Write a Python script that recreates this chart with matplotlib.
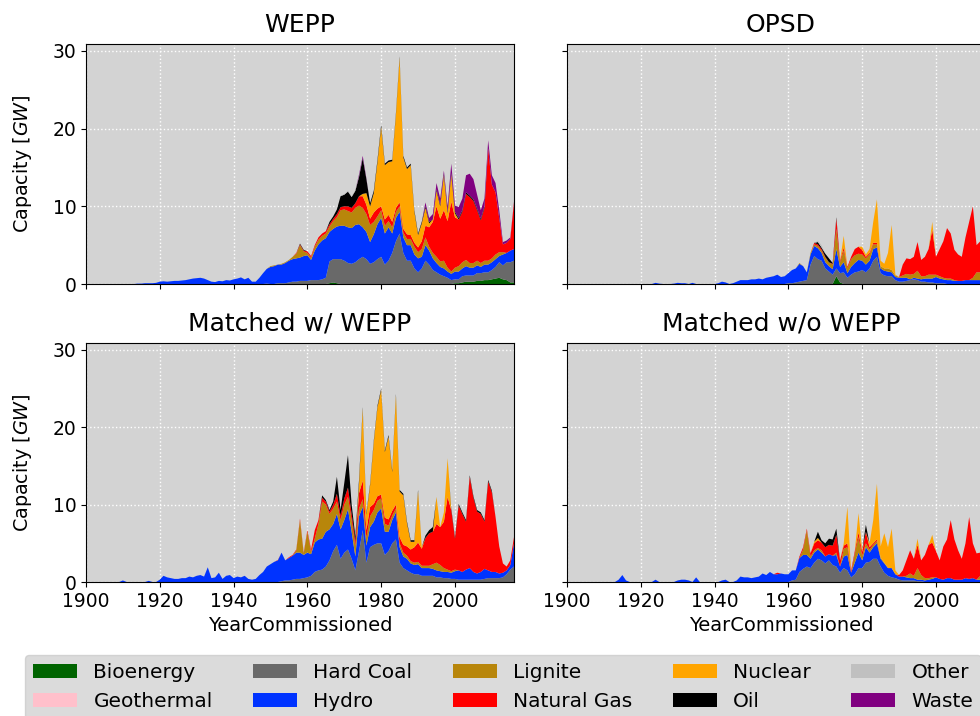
import numpy as np
import matplotlib
matplotlib.use("Agg")
import matplotlib.pyplot as plt

years = np.arange(1900, 2017)
fuels = ['Bioenergy', 'Geothermal', 'Hard Coal', 'Hydro', 'Lignite',
         'Natural Gas', 'Nuclear', 'Oil', 'Other', 'Waste']
colors = ['darkgreen', 'pink', 'dimgray', '#0033ff', 'darkgoldenrod',
          'red', 'orange', 'black', 'silver', 'purple']
titles = ['WEPP', 'OPSD', 'Matched w/ WEPP', 'Matched w/o WEPP']
xticks = [1900, 1920, 1940, 1960, 1980, 2000]
yticks = [0, 10, 20, 30]

# ---------------- WEPP (values in GW, (first year, yearly values)) -------
wepp_bio = (1966, [0.1, 0.2, 0.1, 0.0] + [0.0] * 30 +
            [0.1, 0.1, 0.2, 0.3, 0.3, 0.3, 0.4, 0.4, 0.5, 0.5,
             0.6, 0.7, 0.8, 0.6, 0.5, 0.2, 0.2])
wepp_geo = (2000, [])
wepp_coal = (1949, [0.05,
                    0.0, 0.0, 0.1, 0.1, 0.1, 0.2, 0.3, 0.3, 0.4, 0.4,
                    0.4, 0.5, 0.5, 0.5, 0.6, 0.8, 2.8, 3.0, 3.1, 3.2,
                    3.0, 2.7, 2.6, 2.8, 3.2, 3.5, 3.2, 2.6, 2.8, 3.2,
                    3.5, 2.5, 3.0, 4.0, 5.5, 6.5, 4.0, 3.0, 3.0, 2.0,
                    1.5, 2.0, 3.0, 2.5, 1.8, 1.5, 1.2, 1.0, 0.8, 0.5,
                    0.5, 0.5, 0.8, 0.8, 0.8, 0.8, 1.0, 1.0, 1.0, 1.0,
                    1.2, 1.5, 2.0, 1.8, 2.3, 2.6, 2.8])
wepp_hydro = (1914, [0.05, 0.05, 0.1, 0.1, 0.1, 0.15,
                     0.3, 0.35, 0.3, 0.35, 0.4, 0.4, 0.45, 0.5, 0.6, 0.7,
                     0.75, 0.8, 0.7, 0.5, 0.3, 0.25, 0.4, 0.35, 0.5, 0.45,
                     0.6, 0.7, 0.85, 0.6, 0.8,
                     0.3, 0.3, 0.8, 1.4, 1.9,
                     2.2, 2.3, 2.4, 2.4, 2.6, 2.8, 2.9, 3.0, 3.0, 3.2,
                     3.3, 2.6, 3.8, 4.6, 5.0, 5.1, 3.8, 3.9, 4.2, 4.3,
                     4.5, 4.6, 4.6, 4.8, 4.5, 3.8, 3.5, 2.8, 3.6, 4.5,
                     5.0, 4.0, 4.3, 2.5, 3.0, 2.8, 2.0, 2.0, 2.0, 1.8,
                     1.8, 1.5, 2.0, 1.8, 1.5, 1.2, 1.0, 1.0, 0.8, 0.8,
                     1.0, 1.0, 1.0, 1.2, 1.0, 1.0, 1.0, 0.8, 1.0, 1.0,
                     1.0, 1.0, 0.8, 1.4, 1.2, 1.5, 1.5])
wepp_lignite = (1950, [0.1, 0.1, 0.0, 0.1, 0.1, 0.1, 0.3, 0.6, 1.6, 0.6,
                       0.3, 0.3, 0.5, 0.6, 0.6, 0.6, 0.7, 1.0, 1.2, 2.0,
                       2.1, 2.1, 2.0, 2.2, 2.4, 2.5, 2.3, 2.2, 1.6, 1.0,
                       1.0, 1.0, 0.8, 0.8, 0.8, 0.7, 0.6, 0.8, 0.8, 1.0,
                       0.8, 1.0, 1.0, 0.5, 0.7, 0.8, 0.7, 1.0, 0.5, 0.3,
                       0.5, 0.7, 0.8, 0.8, 0.6, 0.6, 0.6, 0.5, 0.5, 0.5,
                       0.5, 0.6, 0.5, 0.3])
wepp_gas = (1957, [0.1, 0.1, 0.1,
                   0.2, 0.2, 0.2, 0.3, 0.3, 0.3, 0.3, 0.3, 0.4, 0.4,
                   0.4, 0.6, 0.6, 0.6, 1.2, 1.5, 1.2, 0.8, 1.2, 1.0,
                   0.5, 0.8, 0.8, 0.7, 0.5, 0.5, 0.5, 0.6, 0.5, 0.5,
                   0.6, 1.0, 1.5, 2.5, 4.0, 6.5, 5.5, 6.5, 6.0, 9.0,
                   6.5, 6.0, 6.5, 8.5, 8.5, 8.0, 6.5, 5.5, 6.8, 14.5,
                   9.5, 8.0, 4.4, 1.0, 1.3, 1.5, 6.0])
wepp_nuclear = (1975, [0.3, 1.5, 1.6, 2.5, 6.0,
                       10.2, 7.0, 6.8, 7.8, 12.0, 18.6, 9.2, 8.4, 9.0, 4.0,
                       1.6, 2.3, 2.3, 0.5, 0.3, 2.0, 1.6, 4.5, 1.0, 3.5,
                       0.5])
wepp_oil = (1958, [0.1, 0.1,
                   0.0, 0.0, 0.0, 0.0, 0.0, 0.0, 0.3, 0.3, 0.6, 1.4,
                   1.5, 1.9, 1.4, 1.6, 2.5, 4.6, 1.8, 0.4, 0.3, 0.3,
                   0.3, 0.2, 0.2, 0.2, 0.2, 0.2, 0.2, 0.2, 0.2, 0.2,
                   0.2, 0.2, 0.2, 0.2, 0.0, 0.2, 0.2, 0.2, 0.2, 0.2,
                   0.2, 0.2, 0.2, 0.2, 0.2, 0.2, 0.2, 0.2, 0.2])
wepp_other = (1970, [0.1, 0.1, 0.1, 0.1, 0.1])
wepp_waste = (1974, [0.2, 0.3, 0.1, 0.0, 0.0, 0.0,
                     0.0, 0.0, 0.0, 0.0, 0.0, 0.0, 0.0, 0.0, 0.0, 0.0,
                     0.0, 0.0, 0.5, 0.5, 0.7, 0.8, 0.8, 0.4, 0.7, 1.2,
                     0.8, 1.4, 1.5, 2.2, 2.8, 2.6, 1.8, 1.1, 1.0, 1.0,
                     1.2, 1.2, 1.0, 0.3, 0.3, 0.2, 0.1])

# ---------------- OPSD ----------------------------------------------------
opsd_bio = (1973, [1.0, 0.2])
opsd_geo = (2000, [])
opsd_coal = (1960, [0.1, 0.1, 0.2, 0.3, 0.4, 0.5, 2.5, 3.6, 3.2, 3.0,
                    2.0, 1.6, 1.2, 1.0, 1.2, 1.5, 0.8, 1.2, 1.5, 1.6,
                    1.8, 1.5, 2.0, 3.0, 3.5, 1.4, 1.1, 1.0, 1.0, 0.5,
                    0.3, 0.3, 0.4, 0.5, 0.6, 0.5, 0.3, 0.3, 0.2, 0.2,
                    0.1, 0.1, 0.1])
opsd_hydro = (1924, [0.15, 0.05, 0.0, 0.0, 0.0, 0.05,
                     0.15, 0.1, 0.1, 0.0, 0.15, 0.0, 0.0, 0.0, 0.0, 0.0,
                     0.0, 0.1, 0.3, 0.2, 0.0,
                     0.1, 0.3, 0.5, 0.5, 0.5,
                     0.6, 0.6, 0.7, 0.6, 0.8, 0.9, 1.0, 1.2, 0.9, 1.0,
                     1.3, 1.7, 1.8, 2.3, 1.9, 1.0, 1.3, 1.3, 1.4, 1.0,
                     0.8, 0.7, 0.7, 2.5, 0.8, 1.3, 0.6, 1.0, 1.2, 1.5,
                     1.2, 1.0, 1.0, 1.5, 1.2, 0.6, 0.6, 0.6, 0.5, 0.4,
                     0.5, 0.5, 0.4, 0.1, 0.2, 0.2, 0.3, 0.4, 0.5, 0.5,
                     0.8, 0.6, 0.5, 0.5, 0.5, 0.4, 0.4, 0.4, 0.5, 0.5,
                     0.5, 0.5, 0.5, 0.5, 0.5, 0.5, 0.5])
opsd_lignite = (1963, [0.1, 0.0, 0.0, 0.2, 0.2, 0.3, 0.3,
                       0.6, 0.5, 0.6, 2.6, 0.6, 1.5, 0.6, 1.0, 1.0, 0.8,
                       0.8, 0.8, 0.8, 0.6, 0.4, 0.3, 0.3, 0.4, 0.3, 0.2,
                       0.1, 0.3, 0.5, 0.6, 0.5, 1.0, 0.4, 0.3, 0.5, 0.5,
                       0.3, 0.3, 0.2, 0.2, 0.2, 0.1, 0.0, 0.0, 0.0, 0.0,
                       0.3, 1.0, 1.0, 1.0, 1.0, 1.0, 1.0])
opsd_gas = (1967, [0.2, 0.2, 0.2,
                   0.1, 0.0, 0.1, 1.3, 0.2, 0.4, 0.2, 0.3, 0.8, 0.9,
                   0.6, 0.2, 0.2, 0.2, 0.2, 0.0, 0.0, 0.0, 0.0, 0.0,
                   0.0, 1.4, 2.0, 2.0, 2.2, 3.7, 2.1, 2.5, 3.3, 5.8,
                   2.3, 3.5, 4.7, 6.5, 5.8, 3.9, 3.4, 3.1, 5.5, 7.5,
                   9.2, 3.5, 4.0, 4.0, 4.0, 4.0, 4.0])
opsd_nuclear = (1975, [1.5, 0.0, 0.0, 0.0, 0.0,
                       0.4, 0.3, 0.5, 2.7, 5.6, 0.7, 0.6, 2.0, 5.8, 0.1,
                       0.0, 0.0, 0.0, 0.0, 0.0, 0.0, 0.0, 0.0, 0.0, 1.0])
opsd_oil = (1968, [0.3, 0.2, 0.4, 0.5, 0.1, 0.2])
opsd_other = (1968, [0.2, 0.3])
opsd_waste = (2000, [])

# ---------------- Matched w/ WEPP ----------------------------------------
mw_bio = (2000, [])
mw_geo = (2000, [])
mw_coal = (1953, [0.1, 0.2, 0.2, 0.3, 0.4, 0.4, 0.5,
                  0.6, 0.8, 1.3, 1.5, 1.6, 2.0, 2.8, 4.0, 4.8, 3.0,
                  3.8, 4.2, 3.0, 1.5, 4.0, 6.7, 2.5, 4.5, 4.8, 5.0,
                  5.0, 3.5, 4.0, 5.0, 5.5, 2.5, 1.8, 1.5, 1.2, 1.0,
                  1.0, 0.8, 0.8, 0.8, 0.8, 0.6, 0.6, 0.5, 0.5, 0.4,
                  0.4, 0.3, 0.3, 0.3, 0.3, 0.3, 0.3, 0.3, 0.4, 0.5,
                  0.5, 0.5, 0.5, 0.6, 1.0, 1.6, 2.0])
mw_hydro = (1910, [0.2, 0.0, 0.0, 0.0, 0.0, 0.0, 0.0, 0.15, 0.0, 0.0,
                   0.3, 0.8, 0.6, 0.5, 0.4, 0.4, 0.5, 0.5, 0.7, 0.6,
                   0.8, 0.9, 0.7, 1.9, 0.5, 0.6, 1.2, 0.4, 0.8, 0.9,
                   0.5, 0.7, 0.6, 0.8, 0.4,
                   0.3, 0.4, 0.9, 1.3, 2.0,
                   2.3, 2.6, 2.8, 3.7, 2.6, 2.9, 3.1, 3.4, 3.4, 3.0,
                   3.2, 2.8, 3.8, 4.0, 4.0, 4.5, 4.0, 3.5, 4.0, 3.8,
                   4.2, 5.2, 3.5, 1.8, 4.5, 3.0, 2.2, 2.6, 3.0, 4.0,
                   4.5, 3.0, 2.5, 3.0, 3.5, 2.0, 1.5, 1.5, 1.2, 1.2,
                   1.3, 1.0, 1.0, 1.0, 0.9, 0.9, 0.8, 0.8, 0.8, 0.8,
                   1.0, 1.2, 1.0, 1.3, 1.5, 1.0, 0.8, 1.0, 1.3, 1.0,
                   0.8, 0.8, 0.6, 0.6, 0.5, 0.6, 3.0])
mw_lignite = (1957, [0.3, 4.2, 0.2,
                     2.7, 0.3, 0.5, 2.0, 4.8, 3.5, 2.0, 2.0, 1.6, 1.2,
                     2.0, 1.6, 1.5, 1.4, 1.0, 1.0, 1.0, 1.4, 1.5, 1.5,
                     1.3, 1.0, 0.8, 0.6, 0.5, 0.5, 0.5, 0.4, 0.3, 0.3,
                     0.3, 0.3, 0.3, 0.3, 0.6, 1.0, 0.8, 0.5, 0.3, 0.2,
                     0.2])
mw_gas = (1952, [0.05, 0.0, 0.0, 0.1, 0.1, 0.1, 0.2, 0.1,
                 0.2, 0.3, 1.1, 0.5, 0.5, 0.4, 0.3, 0.5, 1.0, 0.6,
                 0.8, 1.2, 0.8, 0.6, 2.0, 2.4, 1.0, 1.2, 0.8, 0.6,
                 0.5, 0.8, 0.8, 0.6, 0.5, 0.8, 1.0, 1.2, 1.5, 2.0,
                 2.5, 2.2, 3.6, 4.2, 4.2, 5.0, 4.9, 6.0, 9.4, 7.9,
                 4.0, 8.4, 7.5, 6.2, 11.8, 9.6, 8.0, 7.5, 6.1, 11.5,
                 10.3, 7.1, 3.5, 1.2, 0.5, 0.6, 0.8])
mw_nuclear = (1974, [1.2, 9.3, 2.0, 2.8, 8.0, 11.5,
                     13.5, 8.5, 10.7, 5.0, 14.1, 5.9, 6.4, 3.0, 1.0, 0.7,
                     6.6, 0.2, 0.0, 0.0, 0.0, 3.5, 0.0, 1.2, 5.0, 0.0])
mw_oil = (1964, [0.3, 0.2, 0.2, 0.4, 2.2, 0.7,
                 2.0, 4.2, 1.2, 0.6, 0.5, 0.2, 0.2, 0.2, 0.2, 0.2,
                 0.2, 0.2, 0.2, 0.2, 0.2, 0.2, 0.2, 0.2, 0.2, 0.2,
                 0.2, 0.0, 0.3, 0.4, 0.6, 0.0, 0.0, 0.0, 0.0, 0.2,
                 0.2, 0.2, 0.2, 0.2, 0.2, 0.2, 0.2, 0.2, 0.2, 0.2, 0.2])
mw_other = (2000, [])
mw_waste = (2000, [])

# ---------------- Matched w/o WEPP ---------------------------------------
mo_bio = (2000, [])
mo_geo = (2000, [])
mo_coal = (1961, [0.2, 0.3, 1.3, 1.7, 2.0, 1.8, 2.5, 3.0, 2.8,
                  2.4, 2.8, 2.2, 2.0, 1.2, 1.8, 1.5, 0.6, 1.0, 1.8,
                  1.8, 2.5, 2.6, 3.0, 3.0, 2.0, 1.2, 0.8, 0.6, 0.5,
                  0.3, 0.2, 0.2, 0.2, 0.2, 0.1, 0.1])
mo_hydro = (1914, [0.3, 0.9, 0.2, 0.0, 0.0, 0.0,
                   0.0, 0.0, 0.0, 0.0, 0.3, 0.0, 0.0, 0.0, 0.0, 0.0,
                   0.2, 0.3, 0.3, 0.2, 0.0, 0.6, 0.0, 0.0, 0.0, 0.0,
                   0.0, 0.0, 0.2, 0.3, 0.0,
                   0.0, 0.2, 0.7, 0.6, 0.6,
                   0.5, 0.6, 0.7, 1.1, 0.9, 1.3, 1.0, 1.0, 1.1, 1.0,
                   1.0, 1.3, 1.2, 1.8, 1.8, 1.5, 1.2, 1.3, 1.2, 1.0,
                   0.9, 0.8, 1.2, 1.5, 0.8, 1.5, 2.0, 0.6, 1.5, 2.0,
                   1.0, 2.0, 1.2, 1.5, 2.0, 1.0, 1.2, 1.0, 1.2, 0.5,
                   0.4, 0.5, 0.4, 0.3, 0.3, 0.2, 0.2, 0.2, 0.3, 0.4,
                   0.6, 0.4, 0.3, 0.5, 0.5, 0.3, 0.3, 0.3, 0.5, 0.4,
                   0.5, 0.3, 0.3, 0.3, 0.3, 0.3, 0.3])
mo_lignite = (1964, [0.7, 3.2, 0.3, 0.3, 0.2, 0.3,
                     0.0, 0.0, 0.0, 0.3, 0.0, 1.0, 1.0, 0.0, 1.2, 2.0,
                     0.6, 0.5, 0.4, 0.3, 0.3, 0.2, 0.1, 0.0, 0.0, 0.0,
                     0.0, 0.0, 0.2, 0.6, 0.3, 1.5, 0.6, 0.3, 0.2, 0.2,
                     0.0, 0.0, 0.0, 0.0, 0.0, 0.0, 0.0, 0.0, 0.0, 0.0,
                     0.0, 0.0, 0.5, 0.5, 0.5, 0.5, 0.5])
mo_gas = (1957, [0.2, 0.0, 0.0,
                 0.0, 0.0, 0.0, 0.2, 0.3, 0.2, 0.4, 0.9, 1.0, 1.0,
                 1.2, 1.2, 1.3, 2.3, 0.8, 0.4, 0.5, 0.3, 0.3, 0.6,
                 0.5, 1.5, 0.3, 0.2, 0.2, 0.0, 0.0, 0.0, 0.0, 0.0,
                 0.2, 0.8, 2.0, 3.0, 2.2, 3.0, 1.9, 3.0, 4.3, 4.5,
                 3.4, 2.4, 4.3, 5.0, 7.5, 5.2, 3.8, 2.7, 4.5, 8.0,
                 4.5, 3.4, 3.0, 3.0, 3.0, 3.0, 3.0])
mo_nuclear = (1967, [0.2, 0.3, 0.0,
                     0.0, 0.0, 0.0, 0.0, 0.0, 0.3, 4.7, 0.0, 0.0, 2.5,
                     0.2, 0.0, 0.5, 3.0, 7.2, 1.4, 3.8, 2.7, 5.1, 0.5,
                     0.0, 0.0, 0.0, 0.0, 0.0, 0.8, 0.0, 0.0, 0.0, 1.0])
mo_oil = (1968, [0.8, 0.3, 0.5, 0.8, 0.8, 0.8, 0.0, 0.0, 0.0, 0.0,
                 0.0, 0.0, 0.0, 0.9])
mo_other = (2000, [])
mo_waste = (2000, [])

panels = [
    [wepp_bio, wepp_geo, wepp_coal, wepp_hydro, wepp_lignite, wepp_gas,
     wepp_nuclear, wepp_oil, wepp_other, wepp_waste],
    [opsd_bio, opsd_geo, opsd_coal, opsd_hydro, opsd_lignite, opsd_gas,
     opsd_nuclear, opsd_oil, opsd_other, opsd_waste],
    [mw_bio, mw_geo, mw_coal, mw_hydro, mw_lignite, mw_gas,
     mw_nuclear, mw_oil, mw_other, mw_waste],
    [mo_bio, mo_geo, mo_coal, mo_hydro, mo_lignite, mo_gas,
     mo_nuclear, mo_oil, mo_other, mo_waste],
]


def full(series):
    start, vals = series
    arr = np.zeros(len(years))
    i0 = start - years[0]
    arr[i0:i0 + len(vals)] = vals
    return arr


plt.rcParams['axes.facecolor'] = 'lightgray'
plt.rcParams['font.family'] = ['DejaVu Sans']

fig = plt.figure(figsize=(9.8, 7.16), dpi=100)
W, H = 980.0, 716.0
aw = 428 / W
rects = [
    [86 / W, 1 - 284 / H, aw, 240 / H],
    [567 / W, 1 - 284 / H, aw, 240 / H],
    [86 / W, 1 - 582 / H, aw, 239 / H],
    [567 / W, 1 - 582 / H, aw, 239 / H],
]
axes = []
for k, r in enumerate(rects):
    if k == 0:
        ax = fig.add_axes(r)
    else:
        ax = fig.add_axes(r, sharex=axes[0], sharey=axes[0])
    axes.append(ax)

polys = None
for k, ax in enumerate(axes):
    data = [full(s) for s in panels[k]]
    p = ax.stackplot(years, data, colors=colors, labels=fuels)
    if polys is None:
        polys = p
    ax.set_title(titles[k], fontsize=18, pad=9)
    ax.grid(True, color='white', linestyle=':', linewidth=1.0)
    ax.set_axisbelow(True)
    ax.tick_params(labelsize=13.5)
    if k in (0, 1):
        ax.tick_params(labelbottom=False)
    else:
        ax.set_xlabel('YearCommissioned', fontsize=14)
    if k in (1, 3):
        ax.tick_params(labelleft=False)
    else:
        ax.set_ylabel('Capacity [$GW$]', fontsize=13.8, labelpad=13)

axes[0].set_xlim(1900, 2016)
axes[0].set_ylim(0, 30.9)
axes[0].set_xticks(xticks)
axes[0].set_yticks(yticks)

fig.legend(polys, fuels, loc='upper left', bbox_to_anchor=(25 / W, 1 - 655 / H),
           borderaxespad=0, ncol=5, fontsize=14.5, handlelength=2.2)

fig.savefig('out.png', dpi=100)
